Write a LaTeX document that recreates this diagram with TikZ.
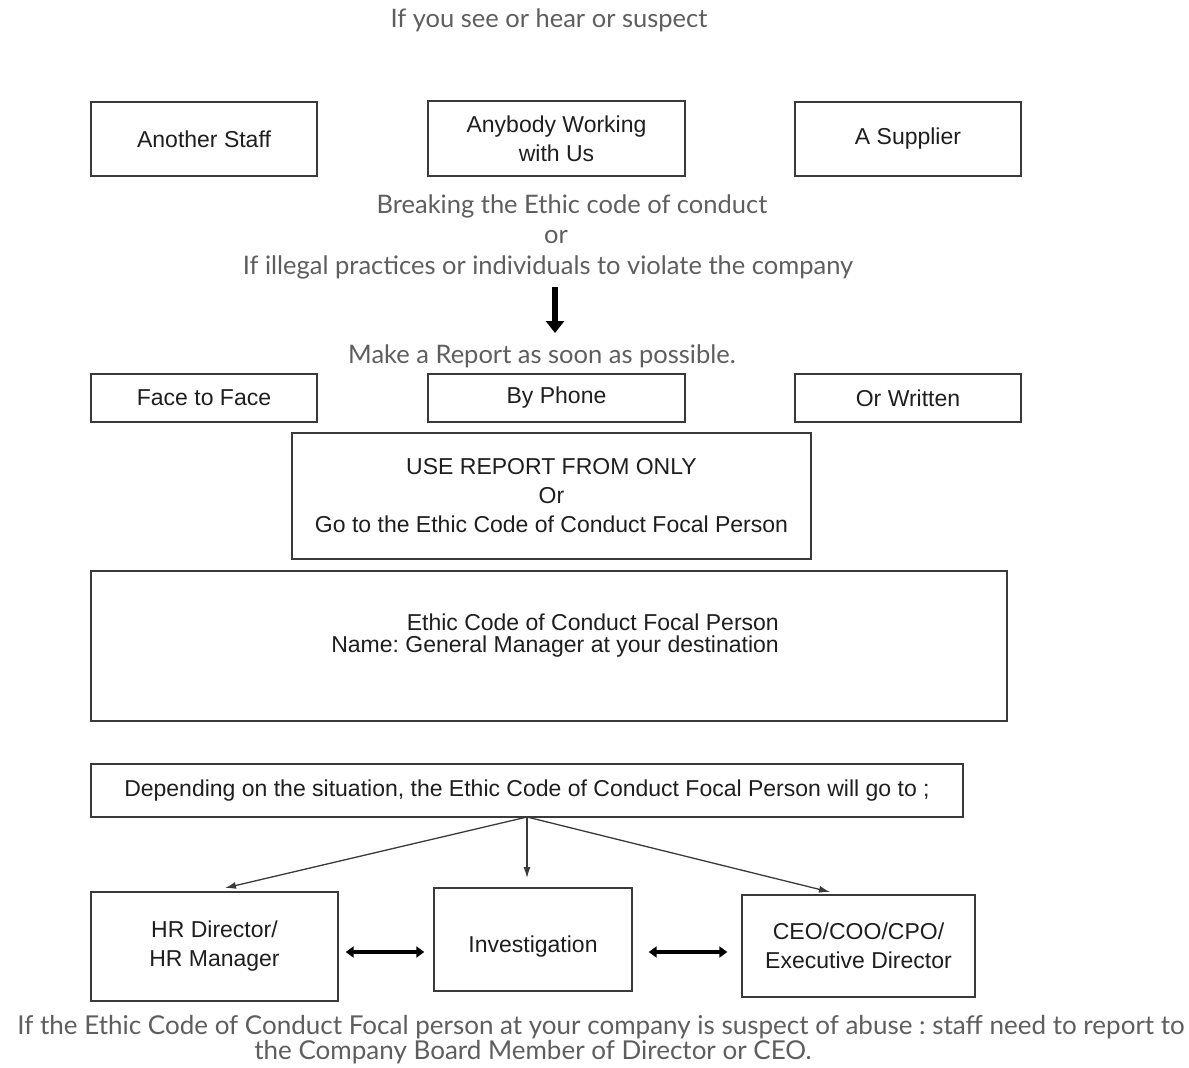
\documentclass[tikz,border=0pt]{standalone}
\usepackage{fontspec}
\setmainfont{Liberation Sans}
\newfontfamily\lato{Lato}
\usetikzlibrary{arrows.meta,calc}
\frenchspacing
\definecolor{boxline}{HTML}{3A3A3A}
\definecolor{boxtext}{HTML}{1E1E1E}
\definecolor{freetext}{HTML}{5E5E5E}
\tikzset{
  bx/.style={draw=boxline, line width=1.4pt, text=boxtext, align=center, inner sep=0pt,
    font=\fontsize{23}{29}\selectfont},
  free/.style={text=freetext, align=center, inner sep=0pt, font=\lato\fontsize{25.5}{30}\selectfont},
  conn/.style={draw=boxline, line width=1.3pt, -{Latex[length=11pt,width=7pt]}},
  bigarrow/.style={draw=black, line width=6pt, -{Triangle[length=12pt,width=18pt]}},
  dbl/.style={draw=black, line width=4pt, {Triangle[length=8pt,width=11pt]}-{Triangle[length=8pt,width=11pt]}},
}
\begin{document}
\begin{tikzpicture}[x=1pt,y=-1pt]
\useasboundingbox (0,0) rectangle (1189,1068);
\node[free] (t0) at (549,20) {If you see or hear or suspect};

\node[bx, minimum width=226pt, minimum height=74pt] (s1) at (204,139) {Another Staff};
\node[bx, minimum width=257pt, minimum height=75pt] (s2) at (556.5,138.5) {Anybody Working\\with Us};
\node[bx, minimum width=226pt, minimum height=74pt] (s3) at (908,139) {A Supplier};

\node[free] (b1) at (572,206) {Breaking the Ethic code of conduct};
\node[free] (b2) at (556,237) {or};
\node[free] (b3) at (548,267) {If illegal practices or individuals to violate the company};
\node[free] (mk) at (542,356) {Make a Report as soon as possible.};
\draw[bigarrow] (555,287) coordinate (aa) -- (555,333) coordinate (ab);

\node[bx, minimum width=226pt, minimum height=48pt] (r1) at (204,398) {Face to Face};
\node[bx, minimum width=257pt, minimum height=48pt] (r2) at (556.5,398) {By Phone};
\node[bx, minimum width=226pt, minimum height=48pt] (r3) at (908,398) {Or Written};

\node[bx, minimum width=519pt, minimum height=126pt] (use) at (551.5,496) {USE REPORT FROM ONLY\\Or\\Go to the Ethic Code of Conduct Focal Person};

\node[bx, minimum width=916pt, minimum height=150pt] (fp) at (549,646) {};
\node[text=boxtext, inner sep=0pt, anchor=east, font=\fontsize{23}{29}\selectfont] (fp1) at (779,622) {Ethic Code of Conduct Focal Person};
\node[text=boxtext, inner sep=0pt, anchor=east, font=\fontsize{23}{29}\selectfont] (fp2) at (779,647) {Name: General Manager at your destination};

\node[bx, minimum width=872pt, minimum height=53pt] (dep) at (527,790.5) {Depending on the situation, the Ethic Code of Conduct Focal Person will go to ;};

\node[bx, minimum width=247pt, minimum height=109pt] (hr) at (214.5,946.5) {HR Director/\\HR Manager};
\node[bx, minimum width=198pt, minimum height=103pt] (inv) at (533,939.5) {\raisebox{-12.5pt}[0pt][0pt]{Investigation}};
\node[bx, minimum width=233pt, minimum height=102pt] (ceo) at (858.5,946) {CEO/COO/CPO/\\Executive Director};

\coordinate (src) at (527,817);
\draw[conn] (src) -- (225,888);
\draw[conn] (src) -- (src |- 0,878);
\draw[conn] (src) -- (830,892);

\draw[dbl, shorten <=7pt, shorten >=9pt] (hr.east |- 0,952) -- (inv.west |- 0,952);
\draw[dbl, shorten <=16pt, shorten >=14pt] (inv.east |- 0,952) -- (ceo.west |- 0,952);

\node[free, font=\lato\fontsize{26}{30}\selectfont] (n1) at (601,1027) {If the Ethic Code of Conduct Focal person at your company is suspect of abuse : staff need to report to};
\node[free, font=\lato\fontsize{26}{30}\selectfont] (n2) at (533,1052) {the Company Board Member of Director or CEO.};
\end{tikzpicture}
\end{document}
